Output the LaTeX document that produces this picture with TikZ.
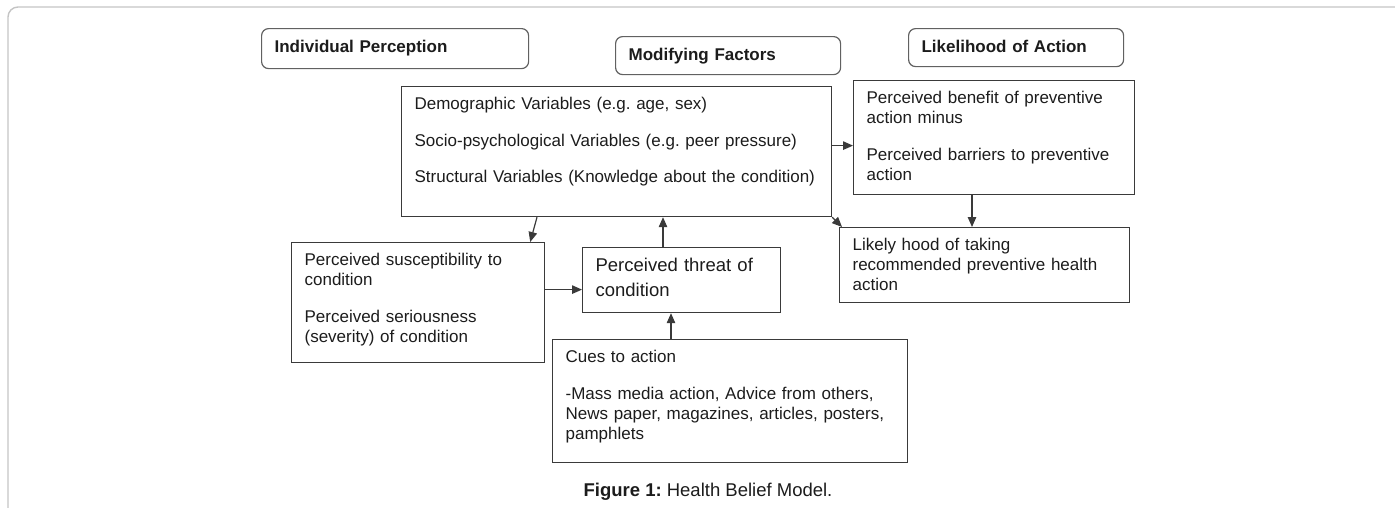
\documentclass[tikz,border=0pt]{standalone}
\usepackage{fontspec}
\setmainfont{Liberation Sans}
\usetikzlibrary{arrows.meta}
\definecolor{edgegray}{HTML}{3A3A3A}
\definecolor{framegray}{HTML}{C4C4C4}
\definecolor{inkgray}{HTML}{1C1C1C}
\frenchspacing

\begin{document}
\begin{tikzpicture}[x=1pt, y=-1pt,
    every node/.style={text=inkgray, font=\fontsize{17}{20}\selectfont},
    infobox/.style={draw=edgegray, line width=1.2pt, rectangle, anchor=north west,
      align=left, inner xsep=13pt, inner ysep=9pt, text height=14pt,
      execute at begin node={\setlength{\parindent}{0pt}\setlength{\parskip}{16.5pt}}},
    titlebox/.style={infobox, draw=edgegray!80, rounded corners=7pt, text height=14.4pt,
      font=\fontsize{17}{20}\selectfont\bfseries},
    arr/.style={draw=edgegray, line width=1.2pt, -{Triangle[length=10pt,width=8.5pt]}}]
      \clip (0,0) rectangle (1395,507);
      \draw[framegray, line width=1.4pt, rounded corners=10pt] (8,540) -- (8,7) -- (1420,7);
      % headings
      \node[titlebox, text width=241pt, text depth=7.6pt] (indiv) at (261,28) {Individual Perception};
      \node[titlebox, text width=199pt, text depth=5.6pt] (modif) at (615,36) {Modifying Factors};
      \node[titlebox, text width=189pt, text depth=5.6pt] (likeli) at (908,28) {Likelihood of Action};
      % boxes
      \node[infobox, text width=404pt, text depth=98pt] (demo) at (401,86)
        {Demographic Variables (e.g. age, sex)\par
         Socio-psychological Variables (e.g. peer pressure)\par
         Structural Variables (Knowledge about the condition)};
      \node[infobox, text width=255pt, text depth=82pt] (benefit) at (853,80)
        {Perceived benefit of preventive\\ action minus\par
         Perceived barriers to preventive\\ action};
      \node[infobox, text width=264pt, text depth=43pt] (likely) at (839,227)
        {Likely hood of taking\\ recommended preventive health\\ action};
      \node[infobox, text width=227pt, text depth=88pt] (suscept) at (291,242)
        {Perceived susceptibility to\\ condition\par
         Perceived seriousness\\ (severity) of condition};
      \node[infobox, text width=172pt, text height=14.8pt, text depth=32.2pt,
        font=\fontsize{18.5}{25}\selectfont] (threat) at (582,247)
        {Perceived threat of\\ condition};
      \node[infobox, text width=329pt, text depth=91pt] (cues) at (552,339)
        {Cues to action\par
         -Mass media action, Advice from others,\\ News paper, magazines, articles, posters,\\ pamphlets};
      \node[font=\fontsize{18.5}{22}\selectfont] (caption) at (708,492)
        {\textbf{Figure 1:} Health Belief Model.};
      % arrows
      \draw[arr] ([xshift=136pt]demo.south west) -- ([xshift=-15pt]suscept.north east);
      \draw[arr] ([yshift=13pt]suscept.east) -- ([yshift=13pt]suscept.east -| threat.west);
      \draw[arr] ([xshift=81pt]threat.north west) -- ([xshift=81pt]threat.north west |- demo.south);
      \draw[arr] ([xshift=119pt]cues.north west) -- ([xshift=119pt]cues.north west |- threat.south);
      \draw[arr] ([yshift=6pt]demo.east) -- ([yshift=6pt]demo.east -| benefit.west);
      \draw[arr] ([xshift=119pt]benefit.south west) -- ([xshift=119pt]benefit.south west |- likely.north);
      \draw[arr] (demo.south east) -- ([xshift=3pt]likely.north west);
\end{tikzpicture}
\end{document}
